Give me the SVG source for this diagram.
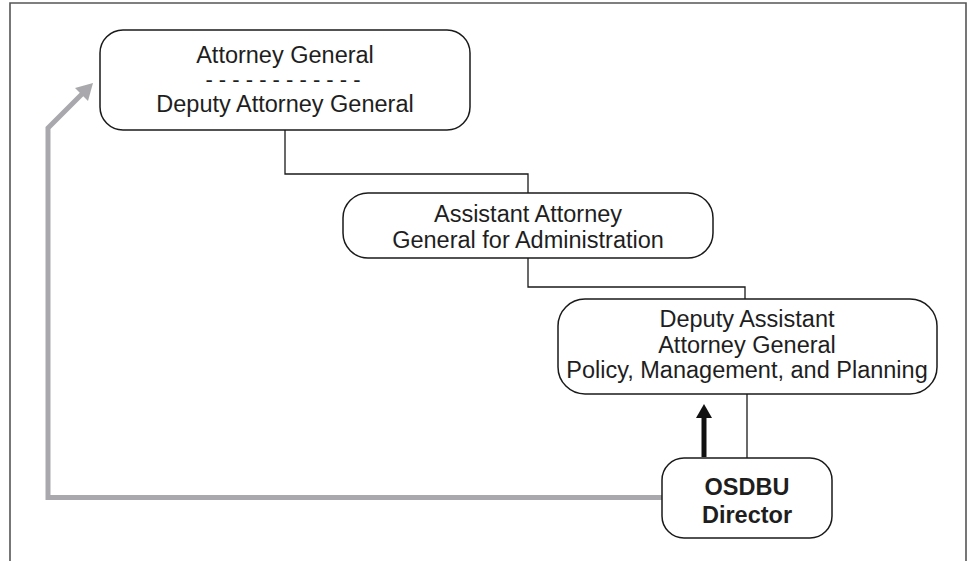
<svg xmlns="http://www.w3.org/2000/svg" width="975" height="561" viewBox="0 0 975 561">
<defs>
<style>
.box{fill:#fff;stroke:#1a1a1a;stroke-width:1.5}
.t{font-family:"Liberation Sans",Arial,sans-serif;font-size:23.5px;fill:#1e1e1e;text-anchor:middle}
.b{font-weight:bold}
.ln{fill:none;stroke:#1a1a1a;stroke-width:1.3}
.gray{fill:none;stroke:#a9a9ad;stroke-width:5}
</style>
</defs>
<rect width="975" height="561" fill="#fff"/>
<path d="M10,561 V3 H966 V561" fill="none" stroke="#555" stroke-width="1.6"/>
<g id="connectors">
<path class="ln" d="M285,130 V174 H528 V193"/>
<path class="ln" d="M528,258 V287 H745 V299"/>
<path class="ln" d="M747,394 V458"/>
<path d="M704,457 V416" stroke="#111" stroke-width="5" fill="none"/>
<polygon points="704,404 712,418 696,418" fill="#111"/>
<path class="gray" d="M662,497.5 H48 V128 L84,92"/>
<polygon points="93,83 88,101 75,88" fill="#a9a9ad"/>
</g>
<g id="attorney-general">
<rect class="box" x="100" y="30" width="370" height="100" rx="23"/>
<text class="t" x="285" y="63">Attorney General</text>
<text class="t" x="283" y="87" style="font-size:22px">- - - - - - - - - - - -</text>
<text class="t" x="285" y="112">Deputy Attorney General</text>
</g>
<g id="aag-administration">
<rect class="box" x="343" y="193" width="370" height="65" rx="25"/>
<text class="t" x="528" y="222">Assistant Attorney</text>
<text class="t" x="528" y="248">General for Administration</text>
</g>
<g id="daag-pmp">
<rect class="box" x="558" y="299" width="379" height="95" rx="27"/>
<text class="t" x="747" y="327">Deputy Assistant</text>
<text class="t" x="747" y="353">Attorney General</text>
<text class="t" x="747" y="378">Policy, Management, and Planning</text>
</g>
<g id="osdbu-director">
<rect class="box" x="662" y="458" width="170" height="80" rx="22"/>
<text class="t b" x="747" y="495">OSDBU</text>
<text class="t b" x="747" y="523">Director</text>
</g>
</svg>
